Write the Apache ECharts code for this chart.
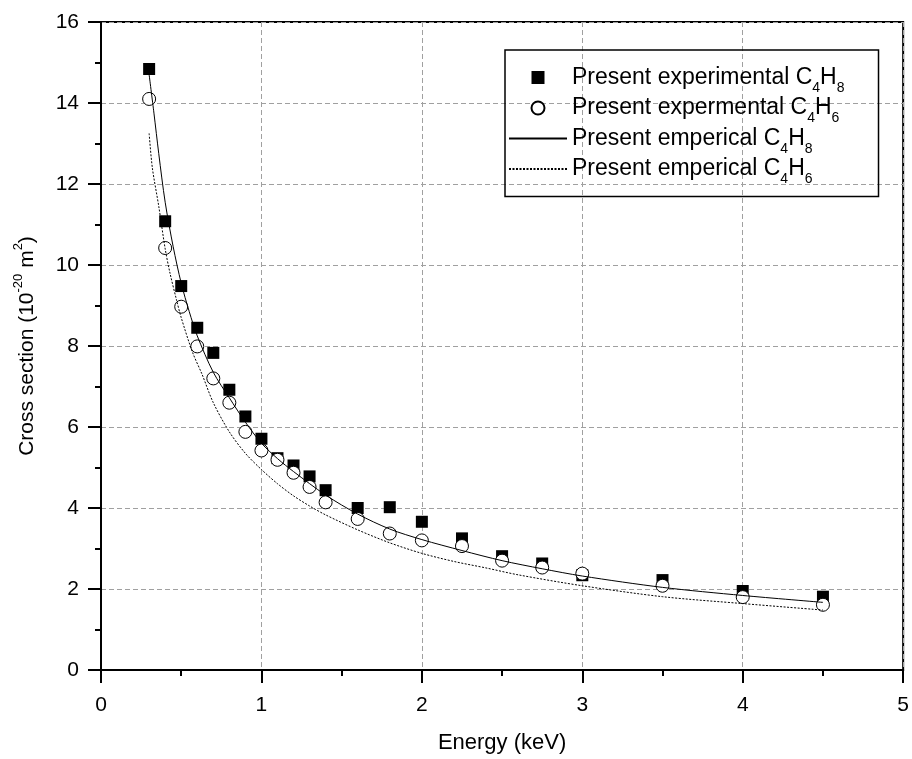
<!DOCTYPE html>
<html><head><meta charset="utf-8">
<script src="https://cdn.jsdelivr.net/npm/echarts@6/dist/echarts.min.js"></script>
<style>html,body{margin:0;padding:0;background:#fff}#c{width:912px;height:759px}</style>
</head><body><div id="c"></div>
<script>
// ---- data ----
const energy = [0.3, 0.4, 0.5, 0.6, 0.7, 0.8, 0.9, 1.0, 1.1, 1.2, 1.3, 1.4, 1.6, 1.8, 2.0, 2.25, 2.5, 2.75, 3.0, 3.5, 4.0, 4.5];
const expC4H8 = [14.84, 11.08, 9.48, 8.45, 7.83, 6.92, 6.26, 5.71, 5.23, 5.05, 4.78, 4.44, 4.00, 4.02, 3.66, 3.25, 2.81, 2.63, 2.34, 2.22, 1.95, 1.81];
const expC4H6 = [14.10, 10.42, 8.97, 7.99, 7.20, 6.60, 5.88, 5.42, 5.19, 4.87, 4.52, 4.14, 3.73, 3.37, 3.20, 3.06, 2.70, 2.53, 2.38, 2.08, 1.80, 1.61];

const empC4H8x = [0.3, 0.33, 0.36, 0.4, 0.45, 0.5, 0.55, 0.6, 0.7, 0.8, 0.9, 1.0, 1.1, 1.2, 1.4, 1.6, 1.8, 2.0, 2.25, 2.5, 2.75, 3.0, 3.5, 4.0, 4.5];
const empC4H8y = [14.7, 13.75, 12.75, 11.55, 10.45, 9.55, 8.85, 8.25, 7.35, 6.72, 6.12, 5.6, 5.22, 4.9, 4.32, 3.85, 3.48, 3.22, 2.95, 2.7, 2.5, 2.32, 2.04, 1.84, 1.67];
const empC4H6x = [0.3, 0.32, 0.36, 0.4, 0.43, 0.47, 0.5, 0.57, 0.63, 0.7, 0.8, 0.9, 1.0, 1.1, 1.2, 1.3, 1.4, 1.6, 1.8, 2.0, 2.2, 2.4, 2.6, 3.0, 3.5, 4.0, 4.5];
const empC4H6y = [13.25, 12.4, 11.45, 10.4, 9.8, 9.15, 8.7, 7.85, 7.3, 6.6, 5.88, 5.35, 4.95, 4.6, 4.3, 4.05, 3.83, 3.46, 3.14, 2.88, 2.68, 2.52, 2.35, 2.08, 1.81, 1.64, 1.48];

const seriesNames = ['Present experimental C4H8', 'Present expermental C4H6', 'Present emperical C4H8', 'Present emperical C4H6'];
const legendRich = {
  'Present experimental C4H8': '{t|Present experimental C}{s|4}{t|H}{s|8}',
  'Present expermental C4H6': '{t|Present expermental C}{s|4}{t|H}{s|6}',
  'Present emperical C4H8': '{t|Present emperical C}{s|4}{t|H}{s|8}',
  'Present emperical C4H6': '{t|Present emperical C}{s|4}{t|H}{s|6}'
};
const xName = 'Energy (keV)';
const yName = '{t|Cross section (10}{p|-20}{t| m}{p|2}{t|)}';

const zip = (xs, ys) => xs.map((x, i) => [x, ys[i]]);
const FONT = 'Liberation Sans, Arial, sans-serif';
const SQUARE = 'path://M0,0H10V10H0Z';

const chart = echarts.init(document.getElementById('c'), null, {renderer: 'canvas'});
chart.setOption({
  animation: false,
  backgroundColor: '#fff',
  grid: {left: 101, top: 22, width: 803, height: 650, show: true, borderColor: '#000', borderWidth: 2, backgroundColor: 'transparent'},
  legend: {
    orient: 'vertical', left: 505, top: 50,
    padding: [10, 34, 10, 3],
    itemWidth: 58, itemHeight: 13, itemGap: -4.5, itemTextGap: 10,
    borderColor: '#000', borderWidth: 1.5,
    data: [
      {name: seriesNames[0], icon: SQUARE, itemStyle: {opacity: 1}},
      {name: seriesNames[1], icon: 'circle', itemStyle: {opacity: 1}},
      {name: seriesNames[2], itemStyle: {opacity: 0}},
      {name: seriesNames[3], itemStyle: {opacity: 0}}
    ],
    formatter: n => legendRich[n],
    textStyle: {
      fontFamily: FONT, color: '#000',
      rich: {
        t: {fontFamily: FONT, fontSize: 23, color: '#000', lineHeight: 26},
        s: {fontFamily: FONT, fontSize: 14, color: '#000', lineHeight: 4, padding: [21, 0, 0, 0]}
      }
    }
  },
  xAxis: {
    type: 'value', min: 0, max: 5, interval: 1,
    name: xName, nameLocation: 'middle', nameGap: 62,
    nameTextStyle: {fontFamily: FONT, fontSize: 22, color: '#000'},
    axisLine: {show: true, onZero: false, lineStyle: {color: '#000', width: 2}},
    axisTick: {show: true, length: 13, lineStyle: {color: '#000', width: 2}},
    minorTick: {show: true, splitNumber: 2, length: 6, lineStyle: {color: '#000', width: 2}},
    splitLine: {show: true, lineStyle: {color: '#a0a0a0', width: 1, type: [5, 3]}},
    axisLabel: {fontFamily: FONT, fontSize: 21, color: '#000', margin: 25}
  },
  yAxis: {
    type: 'value', min: 0, max: 16, interval: 2,
    name: yName, nameLocation: 'middle', nameGap: 61, nameRotate: 90,
    nameTextStyle: {
      fontFamily: FONT, color: '#000',
      rich: {
        t: {fontFamily: FONT, fontSize: 21, color: '#000', lineHeight: 26},
        p: {fontFamily: FONT, fontSize: 13, color: '#000', lineHeight: 10, padding: [0, 0, 18, 0]}
      }
    },
    axisLine: {show: true, onZero: false, lineStyle: {color: '#000', width: 2}},
    axisTick: {show: true, length: 13, lineStyle: {color: '#000', width: 2}},
    minorTick: {show: true, splitNumber: 2, length: 6, lineStyle: {color: '#000', width: 2}},
    splitLine: {show: true, lineStyle: {color: '#a0a0a0', width: 1, type: [5, 3]}},
    axisLabel: {fontFamily: FONT, fontSize: 21, color: '#000', margin: 22}
  },
  series: [
    {name: seriesNames[0], type: 'scatter', symbol: SQUARE, symbolSize: 12, z: 2,
     itemStyle: {color: '#000', opacity: 1}, data: zip(energy, expC4H8)},
    {name: seriesNames[1], type: 'scatter', symbol: 'circle', symbolSize: 13, z: 3,
     itemStyle: {color: '#fff', borderColor: '#000', borderWidth: 1, opacity: 1}, data: zip(energy, expC4H6)},
    {name: seriesNames[2], type: 'line', symbol: 'none', smooth: 0.3, z: 4,
     lineStyle: {color: '#000', width: 1, type: 'solid'}, itemStyle: {color: '#000'}, data: zip(empC4H8x, empC4H8y)},
    {name: seriesNames[3], type: 'line', symbol: 'none', smooth: 0.3, z: 4,
     lineStyle: {color: '#000', width: 1, type: [2, 1.5]}, itemStyle: {color: '#000'}, data: zip(empC4H6x, empC4H6y)}
  ]
});
</script>
</body></html>
